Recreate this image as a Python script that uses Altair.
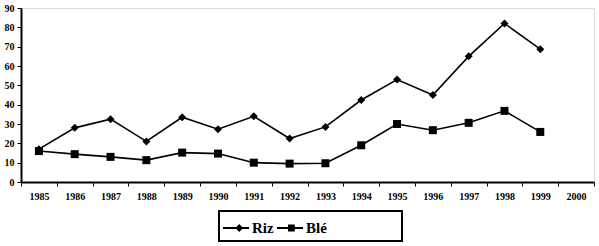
import altair as alt
import pandas as pd

years = [str(y) for y in range(1985, 2001)]
data_years = [str(y) for y in range(1985, 2000)]
riz = [17, 28, 32.5, 21, 33.5, 27.3, 34, 22.5, 28.5, 42.4, 53, 45, 65, 82, 68.7]
ble = [16, 14.4, 13, 11.3, 15.2, 14.7, 10, 9.5, 9.7, 19, 30, 26.8, 30.6, 36.8, 25.9]
series = ["Riz", "Blé"]

rows = []
for s, vals in zip(series, [riz, ble]):
    for y, v in zip(data_years, vals):
        rows.append({"year": y, "value": v, "series": s})
df = pd.DataFrame(rows)

FONT = "Liberation Serif"
DIAMOND = "M0,-1L1,0L0,1L-1,0Z"
SQUARE = "M-1,-1H1V1H-1Z"
BAR = "M-1,-0.08H1V0.08H-1Z"
LEG_DIAMOND = BAR + "M0.25,-0.3L0.55,0L0.25,0.3L-0.05,0Z"
LEG_SQUARE = BAR + "M-0.15,-0.26H0.37V0.26H-0.15Z"

x = alt.X("year:O", scale=alt.Scale(domain=years, type="band", paddingInner=0, paddingOuter=0),
          axis=alt.Axis(title=None, labelAngle=0, tickBand="extent", labelFont=FONT,
                        labelFontWeight="bold", labelFontSize=10, labelColor="black",
                        tickColor="black", domainColor="black", domainWidth=2,
                        tickSize=4, labelPadding=5))
y = alt.Y("value:Q", scale=alt.Scale(domain=[0, 90], nice=False),
          axis=alt.Axis(title=None, values=list(range(0, 91, 10)), labelFont=FONT,
                        labelFontWeight="bold", labelFontSize=10, labelColor="black",
                        tickColor="black", domainColor="black", domainWidth=2,
                        tickSize=4, labelPadding=3, grid=False))

base = alt.Chart(df)
lines = base.mark_line(color="black", strokeWidth=1.6).encode(x=x, y=y, detail="series:N")
points = base.mark_point(filled=True, color="black", opacity=1, size=64).encode(
    x=x, y=y,
    shape=alt.Shape("series:N", scale=alt.Scale(domain=series, range=[DIAMOND, SQUARE]), legend=None),
)
legend_layer = base.mark_point(filled=True, color="black", size=676).encode(
    x=x, y=y,
    opacity=alt.value(0),
    shape=alt.Shape("series:N", scale=alt.Scale(domain=series, range=[LEG_DIAMOND, LEG_SQUARE]),
                    legend=alt.Legend(title=None, orient="none", legendX=202, legendY=207,
                                      direction="horizontal", padding=0,
                                      labelFont=FONT, labelFontWeight="bold", labelFontSize=15,
                                      labelColor="black", symbolStrokeColor="black",
                                      symbolFillColor="black", symbolStrokeWidth=0,
                                      symbolOpacity=1, symbolSize=676, labelOffset=3,
                                      columnPadding=3, symbolLimit=0)),
)
box = alt.Chart(pd.DataFrame({"k": [0]})).mark_rect(
    fill="transparent", stroke="black", strokeWidth=2
).encode(x=alt.value(198), x2=alt.value(381), y=alt.value(203), y2=alt.value(233))

chart = alt.layer(lines, points, legend_layer, box).resolve_scale(shape="independent").properties(
    width=573, height=174,
    autosize=alt.AutoSizeParams(type="none"),
    padding={"left": 21, "top": 8, "right": 5, "bottom": 64},
).configure_view(stroke="black", strokeWidth=2).configure(background="white")

chart.save("out.html", embed_options={"renderer": "svg", "actions": False})
